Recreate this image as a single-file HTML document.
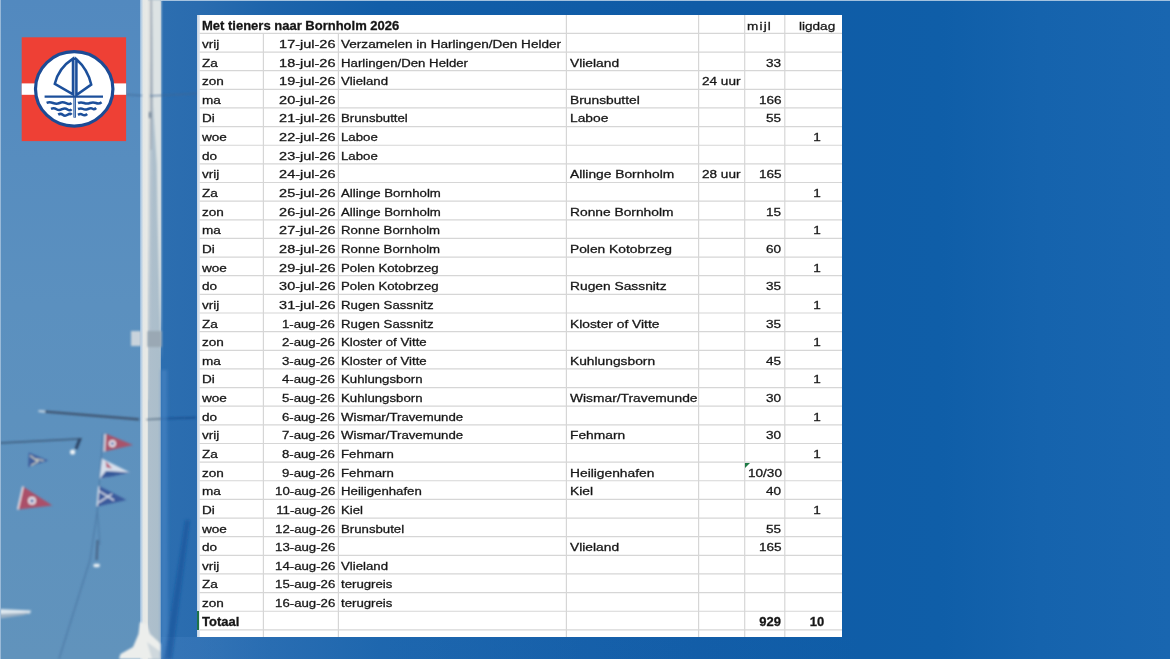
<!DOCTYPE html>
<html lang="nl">
<head>
<meta charset="utf-8">
<title>Met tieners naar Bornholm 2026</title>
<style>
html,body{margin:0;padding:0;}
body{width:1170px;height:659px;overflow:hidden;position:relative;background:#115dae;font-family:"Liberation Sans",sans-serif;}
#bg{position:absolute;left:0;top:0;width:1170px;height:659px;background:linear-gradient(90deg,#2c6eb0 161px,#2a6caf 198px,#1d64ab 270px,#125ea8 380px,#0f5ba6 700px,#0f5ea8 940px,#1563ad 1040px,#1966b0 1170px);}
#bot{position:absolute;left:161px;top:637px;width:700px;height:22px;background:linear-gradient(90deg,rgba(70,130,195,0.35) 0,rgba(60,125,190,0.3) 200px,rgba(50,115,185,0.18) 420px,rgba(40,105,180,0) 700px);}
#topl{position:absolute;left:0;top:0;width:1170px;height:1px;background:#bcd2e8;opacity:.85}
#sky{position:absolute;left:0;top:0;width:141px;height:659px;background:linear-gradient(180deg,#5289bf 0,#578dbf 160px,#5b90bf 305px,#5f92bd 535px,#6193bc 659px);}
#mast{position:absolute;left:140px;top:0;width:21px;height:659px;background:linear-gradient(90deg,#8fb4d8 0,#b4cde4 1.2px,#e4e7e6 3.4px,#e9eae6 7.2px,#aebfcc 8.6px,#abbecb 19.6px,#86a9cb 21px);}
#tbl{position:absolute;left:197px;top:15px;width:645px;height:622px;background:#fff;overflow:hidden;}
.h{position:absolute;left:0;width:645px;height:1px;background:#dcdcdc;}
.v{position:absolute;top:0;width:1px;height:623px;background:#dcdcdc;}
.c{position:absolute;white-space:nowrap;font-size:11.7px;color:#141414;padding-top:1.5px;-webkit-text-stroke:0.3px #1c1c1c;box-sizing:border-box;}
.l{transform:scaleX(1.16);transform-origin:0 50%;}
.r{transform:scaleX(1.16);transform-origin:100% 50%;text-align:right;}
.m{transform:scaleX(1.16);transform-origin:50% 50%;text-align:center;}
.b{font-weight:bold;font-size:12.5px;}
.b.l{transform:scaleX(1.04);}
.b.r{transform:scaleX(1.04);}
.b.m{transform:scaleX(1.04);}
.d.r{transform:scaleX(1.24);}
.e.r{transform:scaleX(1.13);}
.c3.l{transform:scaleX(1.13);}
.c4.l{transform:scaleX(1.18);}
svg{position:absolute;left:0;top:0;}
</style>
</head>
<body>
<div id="bg"></div>
<div id="bot"></div>
<div id="topl"></div>
<div id="sky"></div>
<div id="mast"></div>
<svg id="photo" width="200" height="659" viewBox="0 0 200 659">
<defs>
<filter id="bl" x="-20%" y="-20%" width="140%" height="140%"><feGaussianBlur stdDeviation="0.8"/></filter>
<filter id="bl2" x="-20%" y="-20%" width="140%" height="140%"><feGaussianBlur stdDeviation="1.6"/></filter>
</defs>
<g filter="url(#bl)">
<path d="M147 0 L150.2 0 L149.8 120 L149.2 220 L147.6 400 L147 400 Z" fill="#e9eae6"/>
<path d="M152 0 L161.2 0 L161.2 360 L159.5 300 L157.5 215 L156.8 165 L153 105 Z" fill="#dde3e4"/>
<path d="M150.1 0 L152.1 0 L152.6 100 L151.4 150 L149.8 150 Z" fill="#a3adb9"/>
<path d="M149.4 150 L152 150 L150 330 L148.4 330 Z" fill="#b9c7d2"/>
</g>
<g filter="url(#bl)">
<!-- stay wire right of logo -->
<path d="M126 94.6 L142 95.6 M150 96 L197 93.5" stroke="#3f6592" stroke-width="0.9" fill="none"/>
<!-- bracket on mast -->
<rect x="131" y="331" width="10" height="15" fill="#c9d3dc"/>
<rect x="147.5" y="331" width="14" height="16" fill="#9aa8b4"/>
<path d="M150 112 v6" stroke="#5b6f86" stroke-width="1.6"/>
<!-- spreader -->
<path d="M45 411.6 L139 419.4" stroke="#3d526e" stroke-width="2.1" fill="none"/>
<path d="M38.5 411 L45 411.6" stroke="#c2d2e0" stroke-width="2.2" fill="none"/>
<path d="M161 418.8 L196 417.6" stroke="#1d4f8f" stroke-width="1.6" fill="none"/>
<path d="M146.5 419.6 L161 418.8" stroke="#5c7388" stroke-width="1.4" fill="none"/>
<!-- wire + lamp -->
<path d="M0 443 L82 438.8" stroke="#3d5a7a" stroke-width="1.5" fill="none"/>
<path d="M80 438.6 L76 449" stroke="#2d4566" stroke-width="3" fill="none"/>
<circle cx="72.6" cy="452" r="2.6" fill="#eef3f6"/>
<!-- halyard -->
<path d="M103 433 L97.5 510 L90 560 L59 659" stroke="#4d7aa6" stroke-width="1.2" fill="none"/>
<path d="M97 505 L100 545" stroke="#4d7aa6" stroke-width="1" fill="none"/>
<!-- pennant 1 red -->
<path d="M105.6 433.6 L133 445 L104.6 451.6 Z" fill="#a9526b"/>
<path d="M105.2 434 L104.4 451.6" stroke="#e8dfe6" stroke-width="1.6"/>
<circle cx="112.4" cy="443.6" r="3.6" fill="#e9e2ea"/>
<circle cx="112.4" cy="443.6" r="1.7" fill="#5b77b0"/>
<!-- pennant 2 white/blue -->
<path d="M102 458.6 L130 472.6 L99.6 478.8 Z" fill="#d6dfec"/>
<path d="M106 471 L130 472.4 L112 476.6 L100 478.6 Z" fill="#34589a"/>
<path d="M105.6 461 L112 468.6 L106.6 467.6 Z" fill="#b6506a"/>
<!-- pennant 3 blue w/ cross -->
<path d="M99.2 486 L126.6 500 L97.4 506.4 Z" fill="#3a5a9c"/>
<path d="M99 491 L114 500.4 M98.4 502.6 L112 494" stroke="#e4e9f2" stroke-width="1.3" fill="none"/>
<path d="M98.8 486.4 L97.2 506.2" stroke="#dfe6ef" stroke-width="1.4"/>
<!-- pennant 4 small blue left -->
<path d="M28.8 452.4 L48.4 460.4 L28.2 467 Z" fill="#3e5f9d"/>
<path d="M30 455.4 L38 461.4 L31 465.6 M36 459 L43.6 460.6" stroke="#d9d8c4" stroke-width="1.2" fill="none"/>
<!-- pennant 5 red left -->
<path d="M23 486.6 L52.4 505.4 L18 509.4 Z" fill="#ab5069"/>
<path d="M23 486.4 L17.8 509.6" stroke="#eadfe6" stroke-width="1.8"/>
<circle cx="32" cy="500.8" r="4" fill="#e9e2ea"/>
<circle cx="32" cy="500.8" r="1.9" fill="#5b77b0"/>
<!-- small thing on halyard -->
<path d="M97.6 540 L96.6 560" stroke="#4a6688" stroke-width="2.2"/>
<rect x="93.4" y="563.8" width="6.4" height="3.4" rx="1.4" fill="#e6edf2"/>
<!-- bottom-left bar -->
<path d="M0 609 L31 610.6 L30 613.4 L0 617.4 Z" fill="#dfe8ef"/>
<path d="M0 614 L30 612.4 L24 615 L0 618.4 Z" fill="#9db1c4"/>
<!-- mast base -->
<path d="M140 622 L146.5 624 L150 634 L161 644 L161 659 L119 659 L120.5 654 L133 647 L138.5 634 Z" fill="#eceeec"/>
<path d="M147 642 L152 659 L161 659 L161 652 Z" fill="#cfd8dd"/>
</g>
<g filter="url(#bl2)">
<path d="M161 370 L167 370 L168 659 L161 659 Z" fill="#4a86c4" opacity="0.6"/>
<path d="M185 520 L190 520 L172 659 L164 659 Z" fill="#134e98" opacity="0.55"/>
</g>
<rect x="0" y="0" width="1" height="659" fill="#aac4de" opacity="0.8"/>
</svg>
<svg id="logo" width="200" height="160" viewBox="0 0 200 160">
<defs><filter id="lb" x="-5%" y="-5%" width="110%" height="110%"><feGaussianBlur stdDeviation="0.45"/></filter></defs>
<g filter="url(#lb)">
<rect x="21.7" y="37.3" width="104.4" height="103.8" fill="#ee3f34"/>
<rect x="21.7" y="83.4" width="104.4" height="11.4" fill="#ffffff"/>
<ellipse cx="74.2" cy="88.9" rx="38.7" ry="37.2" fill="#ffffff" stroke="#1c4c95" stroke-width="3.2"/>
<g fill="none" stroke="#1d509b" stroke-width="2.5" stroke-linejoin="miter">
<path d="M73 58.6 Q58.5 68 54.8 83.8 L73 94.4 Z"/>
<path d="M76.4 59.2 Q88 69.5 91.2 84.6 L76.4 95 Z"/>
<path d="M74.7 57.6 V117.6" stroke-width="2.6"/>
<path d="M74.7 60 V117" stroke="#dfe8f4" stroke-width="0.7"/>
<path d="M44.6 96.7 H103" stroke-width="2.2"/>
<path d="M46.6 102.8 q3 -1.2 6.5 0.2 t6.5 0 t6.5 0.2 t5.4 -0.2 M78 103 q3 -1.2 6 0 t6 0 t6 0 t5.6 -0.8" stroke-width="2.5"/>
<path d="M51 108.8 q3 -1.2 5.5 0.4 t5.5 0 t5.5 0.2 t4 -0.2 M78 109 q3 -1.2 5 0 t5 0 t4.6 -0.2 t3.6 -0.8" stroke-width="2.5"/>
<path d="M58.2 114.6 q2.5 -1.6 4.6 0.2 t4.8 0 t4 0 M78 114.8 q2.5 -1.4 4.6 0 t4.6 -0.8" stroke-width="2.5"/>
</g>
</g>
</svg>
<div id="tbl">
<div style="position:absolute;left:0;top:0;width:3px;height:622px;background:linear-gradient(90deg,#c3d3e4,#e6ecf3)"></div>
<svg class="grid" width="645" height="622" viewBox="0 0 645 622"><g stroke="#d6d6d6" stroke-width="1.2" fill="none">
<path d="M2.6 18.40H645"/>
<path d="M2.6 37.04H645"/>
<path d="M2.6 55.68H645"/>
<path d="M2.6 74.32H645"/>
<path d="M2.6 92.96H645"/>
<path d="M2.6 111.60H645"/>
<path d="M2.6 130.24H645"/>
<path d="M2.6 148.88H645"/>
<path d="M2.6 167.52H645"/>
<path d="M2.6 186.16H645"/>
<path d="M2.6 204.80H645"/>
<path d="M2.6 223.44H645"/>
<path d="M2.6 242.08H645"/>
<path d="M2.6 260.72H645"/>
<path d="M2.6 279.36H645"/>
<path d="M2.6 298.00H645"/>
<path d="M2.6 316.64H645"/>
<path d="M2.6 335.28H645"/>
<path d="M2.6 353.92H645"/>
<path d="M2.6 372.56H645"/>
<path d="M2.6 391.20H645"/>
<path d="M2.6 409.84H645"/>
<path d="M2.6 428.48H645"/>
<path d="M2.6 447.12H645"/>
<path d="M2.6 465.76H645"/>
<path d="M2.6 484.40H645"/>
<path d="M2.6 503.04H645"/>
<path d="M2.6 521.68H645"/>
<path d="M2.6 540.32H645"/>
<path d="M2.6 558.96H645"/>
<path d="M2.6 577.60H645"/>
<path d="M2.6 596.24H645"/>
<path d="M2.6 614.88H645"/>
<path d="M66.40 18.40V622"/>
<path d="M141.40 18.40V622"/>
<path d="M369.40 0.00V622"/>
<path d="M501.60 0.00V622"/>
<path d="M547.70 0.00V622"/>
<path d="M587.80 0.00V622"/>
</g></svg>
<div class="c b l" style="left:5.0px;top:0.00px;height:18.40px;line-height:18.40px">Met tieners naar Bornholm 2026</div>
<div class="c l" style="left:549.6px;top:0.00px;height:18.40px;line-height:18.40px"><span style="letter-spacing:1px">mijl</span></div>
<div class="c r" style="right:6.4px;top:0.00px;height:18.40px;line-height:18.40px">ligdag</div>
<div class="c l" style="left:5.2px;top:18.40px;height:18.64px;line-height:18.64px">vrij</div>
<div class="c d r" style="right:506.8px;top:18.40px;height:18.64px;line-height:18.64px">17-jul-26</div>
<div class="c l" style="left:144.2px;top:18.40px;height:18.64px;line-height:18.64px">Verzamelen in Harlingen/Den Helder</div>
<div class="c l" style="left:5.2px;top:37.04px;height:18.64px;line-height:18.64px">Za</div>
<div class="c d r" style="right:506.8px;top:37.04px;height:18.64px;line-height:18.64px">18-jul-26</div>
<div class="c c3 l" style="left:144.2px;top:37.04px;height:18.64px;line-height:18.64px">Harlingen/Den Helder</div>
<div class="c c4 l" style="left:373.0px;top:37.04px;height:18.64px;line-height:18.64px">Vlieland</div>
<div class="c r" style="right:60.8px;top:37.04px;height:18.64px;line-height:18.64px">33</div>
<div class="c l" style="left:5.2px;top:55.68px;height:18.64px;line-height:18.64px">zon</div>
<div class="c d r" style="right:506.8px;top:55.68px;height:18.64px;line-height:18.64px">19-jul-26</div>
<div class="c c3 l" style="left:144.2px;top:55.68px;height:18.64px;line-height:18.64px">Vlieland</div>
<div class="c l" style="left:505.3px;top:55.68px;height:18.64px;line-height:18.64px">24 uur</div>
<div class="c l" style="left:5.2px;top:74.32px;height:18.64px;line-height:18.64px">ma</div>
<div class="c d r" style="right:506.8px;top:74.32px;height:18.64px;line-height:18.64px">20-jul-26</div>
<div class="c c4 l" style="left:373.0px;top:74.32px;height:18.64px;line-height:18.64px">Brunsbuttel</div>
<div class="c r" style="right:60.8px;top:74.32px;height:18.64px;line-height:18.64px">166</div>
<div class="c l" style="left:5.2px;top:92.96px;height:18.64px;line-height:18.64px">Di</div>
<div class="c d r" style="right:506.8px;top:92.96px;height:18.64px;line-height:18.64px">21-jul-26</div>
<div class="c c3 l" style="left:144.2px;top:92.96px;height:18.64px;line-height:18.64px">Brunsbuttel</div>
<div class="c c4 l" style="left:373.0px;top:92.96px;height:18.64px;line-height:18.64px">Laboe</div>
<div class="c r" style="right:60.8px;top:92.96px;height:18.64px;line-height:18.64px">55</div>
<div class="c l" style="left:5.2px;top:111.60px;height:18.64px;line-height:18.64px">woe</div>
<div class="c d r" style="right:506.8px;top:111.60px;height:18.64px;line-height:18.64px">22-jul-26</div>
<div class="c c3 l" style="left:144.2px;top:111.60px;height:18.64px;line-height:18.64px">Laboe</div>
<div class="c m" style="left:579.5px;width:80px;top:111.60px;height:18.64px;line-height:18.64px">1</div>
<div class="c l" style="left:5.2px;top:130.24px;height:18.64px;line-height:18.64px">do</div>
<div class="c d r" style="right:506.8px;top:130.24px;height:18.64px;line-height:18.64px">23-jul-26</div>
<div class="c c3 l" style="left:144.2px;top:130.24px;height:18.64px;line-height:18.64px">Laboe</div>
<div class="c l" style="left:5.2px;top:148.88px;height:18.64px;line-height:18.64px">vrij</div>
<div class="c d r" style="right:506.8px;top:148.88px;height:18.64px;line-height:18.64px">24-jul-26</div>
<div class="c c4 l" style="left:373.0px;top:148.88px;height:18.64px;line-height:18.64px">Allinge Bornholm</div>
<div class="c l" style="left:505.3px;top:148.88px;height:18.64px;line-height:18.64px">28 uur</div>
<div class="c r" style="right:60.8px;top:148.88px;height:18.64px;line-height:18.64px">165</div>
<div class="c l" style="left:5.2px;top:167.52px;height:18.64px;line-height:18.64px">Za</div>
<div class="c d r" style="right:506.8px;top:167.52px;height:18.64px;line-height:18.64px">25-jul-26</div>
<div class="c c3 l" style="left:144.2px;top:167.52px;height:18.64px;line-height:18.64px">Allinge Bornholm</div>
<div class="c m" style="left:579.5px;width:80px;top:167.52px;height:18.64px;line-height:18.64px">1</div>
<div class="c l" style="left:5.2px;top:186.16px;height:18.64px;line-height:18.64px">zon</div>
<div class="c d r" style="right:506.8px;top:186.16px;height:18.64px;line-height:18.64px">26-jul-26</div>
<div class="c c3 l" style="left:144.2px;top:186.16px;height:18.64px;line-height:18.64px">Allinge Bornholm</div>
<div class="c c4 l" style="left:373.0px;top:186.16px;height:18.64px;line-height:18.64px">Ronne Bornholm</div>
<div class="c r" style="right:60.8px;top:186.16px;height:18.64px;line-height:18.64px">15</div>
<div class="c l" style="left:5.2px;top:204.80px;height:18.64px;line-height:18.64px">ma</div>
<div class="c d r" style="right:506.8px;top:204.80px;height:18.64px;line-height:18.64px">27-jul-26</div>
<div class="c c3 l" style="left:144.2px;top:204.80px;height:18.64px;line-height:18.64px">Ronne Bornholm</div>
<div class="c m" style="left:579.5px;width:80px;top:204.80px;height:18.64px;line-height:18.64px">1</div>
<div class="c l" style="left:5.2px;top:223.44px;height:18.64px;line-height:18.64px">Di</div>
<div class="c d r" style="right:506.8px;top:223.44px;height:18.64px;line-height:18.64px">28-jul-26</div>
<div class="c c3 l" style="left:144.2px;top:223.44px;height:18.64px;line-height:18.64px">Ronne Bornholm</div>
<div class="c c4 l" style="left:373.0px;top:223.44px;height:18.64px;line-height:18.64px">Polen Kotobrzeg</div>
<div class="c r" style="right:60.8px;top:223.44px;height:18.64px;line-height:18.64px">60</div>
<div class="c l" style="left:5.2px;top:242.08px;height:18.64px;line-height:18.64px">woe</div>
<div class="c d r" style="right:506.8px;top:242.08px;height:18.64px;line-height:18.64px">29-jul-26</div>
<div class="c c3 l" style="left:144.2px;top:242.08px;height:18.64px;line-height:18.64px">Polen Kotobrzeg</div>
<div class="c m" style="left:579.5px;width:80px;top:242.08px;height:18.64px;line-height:18.64px">1</div>
<div class="c l" style="left:5.2px;top:260.72px;height:18.64px;line-height:18.64px">do</div>
<div class="c d r" style="right:506.8px;top:260.72px;height:18.64px;line-height:18.64px">30-jul-26</div>
<div class="c c3 l" style="left:144.2px;top:260.72px;height:18.64px;line-height:18.64px">Polen Kotobrzeg</div>
<div class="c c4 l" style="left:373.0px;top:260.72px;height:18.64px;line-height:18.64px">Rugen Sassnitz</div>
<div class="c r" style="right:60.8px;top:260.72px;height:18.64px;line-height:18.64px">35</div>
<div class="c l" style="left:5.2px;top:279.36px;height:18.64px;line-height:18.64px">vrij</div>
<div class="c d r" style="right:506.8px;top:279.36px;height:18.64px;line-height:18.64px">31-jul-26</div>
<div class="c c3 l" style="left:144.2px;top:279.36px;height:18.64px;line-height:18.64px">Rugen Sassnitz</div>
<div class="c m" style="left:579.5px;width:80px;top:279.36px;height:18.64px;line-height:18.64px">1</div>
<div class="c l" style="left:5.2px;top:298.00px;height:18.64px;line-height:18.64px">Za</div>
<div class="c e r" style="right:506.8px;top:298.00px;height:18.64px;line-height:18.64px">1-aug-26</div>
<div class="c c3 l" style="left:144.2px;top:298.00px;height:18.64px;line-height:18.64px">Rugen Sassnitz</div>
<div class="c c4 l" style="left:373.0px;top:298.00px;height:18.64px;line-height:18.64px">Kloster of Vitte</div>
<div class="c r" style="right:60.8px;top:298.00px;height:18.64px;line-height:18.64px">35</div>
<div class="c l" style="left:5.2px;top:316.64px;height:18.64px;line-height:18.64px">zon</div>
<div class="c e r" style="right:506.8px;top:316.64px;height:18.64px;line-height:18.64px">2-aug-26</div>
<div class="c c3 l" style="left:144.2px;top:316.64px;height:18.64px;line-height:18.64px">Kloster of Vitte</div>
<div class="c m" style="left:579.5px;width:80px;top:316.64px;height:18.64px;line-height:18.64px">1</div>
<div class="c l" style="left:5.2px;top:335.28px;height:18.64px;line-height:18.64px">ma</div>
<div class="c e r" style="right:506.8px;top:335.28px;height:18.64px;line-height:18.64px">3-aug-26</div>
<div class="c c3 l" style="left:144.2px;top:335.28px;height:18.64px;line-height:18.64px">Kloster of Vitte</div>
<div class="c c4 l" style="left:373.0px;top:335.28px;height:18.64px;line-height:18.64px">Kuhlungsborn</div>
<div class="c r" style="right:60.8px;top:335.28px;height:18.64px;line-height:18.64px">45</div>
<div class="c l" style="left:5.2px;top:353.92px;height:18.64px;line-height:18.64px">Di</div>
<div class="c e r" style="right:506.8px;top:353.92px;height:18.64px;line-height:18.64px">4-aug-26</div>
<div class="c c3 l" style="left:144.2px;top:353.92px;height:18.64px;line-height:18.64px">Kuhlungsborn</div>
<div class="c m" style="left:579.5px;width:80px;top:353.92px;height:18.64px;line-height:18.64px">1</div>
<div class="c l" style="left:5.2px;top:372.56px;height:18.64px;line-height:18.64px">woe</div>
<div class="c e r" style="right:506.8px;top:372.56px;height:18.64px;line-height:18.64px">5-aug-26</div>
<div class="c c3 l" style="left:144.2px;top:372.56px;height:18.64px;line-height:18.64px">Kuhlungsborn</div>
<div class="c c4 l" style="left:373.0px;top:372.56px;height:18.64px;line-height:18.64px">Wismar/Travemunde</div>
<div class="c r" style="right:60.8px;top:372.56px;height:18.64px;line-height:18.64px">30</div>
<div class="c l" style="left:5.2px;top:391.20px;height:18.64px;line-height:18.64px">do</div>
<div class="c e r" style="right:506.8px;top:391.20px;height:18.64px;line-height:18.64px">6-aug-26</div>
<div class="c c3 l" style="left:144.2px;top:391.20px;height:18.64px;line-height:18.64px">Wismar/Travemunde</div>
<div class="c m" style="left:579.5px;width:80px;top:391.20px;height:18.64px;line-height:18.64px">1</div>
<div class="c l" style="left:5.2px;top:409.84px;height:18.64px;line-height:18.64px">vrij</div>
<div class="c e r" style="right:506.8px;top:409.84px;height:18.64px;line-height:18.64px">7-aug-26</div>
<div class="c c3 l" style="left:144.2px;top:409.84px;height:18.64px;line-height:18.64px">Wismar/Travemunde</div>
<div class="c c4 l" style="left:373.0px;top:409.84px;height:18.64px;line-height:18.64px">Fehmarn</div>
<div class="c r" style="right:60.8px;top:409.84px;height:18.64px;line-height:18.64px">30</div>
<div class="c l" style="left:5.2px;top:428.48px;height:18.64px;line-height:18.64px">Za</div>
<div class="c e r" style="right:506.8px;top:428.48px;height:18.64px;line-height:18.64px">8-aug-26</div>
<div class="c c3 l" style="left:144.2px;top:428.48px;height:18.64px;line-height:18.64px">Fehmarn</div>
<div class="c m" style="left:579.5px;width:80px;top:428.48px;height:18.64px;line-height:18.64px">1</div>
<div class="c l" style="left:5.2px;top:447.12px;height:18.64px;line-height:18.64px">zon</div>
<div class="c e r" style="right:506.8px;top:447.12px;height:18.64px;line-height:18.64px">9-aug-26</div>
<div class="c c3 l" style="left:144.2px;top:447.12px;height:18.64px;line-height:18.64px">Fehmarn</div>
<div class="c c4 l" style="left:373.0px;top:447.12px;height:18.64px;line-height:18.64px">Heiligenhafen</div>
<div class="c l" style="left:551.0px;top:447.12px;height:18.64px;line-height:18.64px">10/30</div>
<div class="c l" style="left:5.2px;top:465.76px;height:18.64px;line-height:18.64px">ma</div>
<div class="c e r" style="right:506.8px;top:465.76px;height:18.64px;line-height:18.64px">10-aug-26</div>
<div class="c c3 l" style="left:144.2px;top:465.76px;height:18.64px;line-height:18.64px">Heiligenhafen</div>
<div class="c c4 l" style="left:373.0px;top:465.76px;height:18.64px;line-height:18.64px">Kiel</div>
<div class="c r" style="right:60.8px;top:465.76px;height:18.64px;line-height:18.64px">40</div>
<div class="c l" style="left:5.2px;top:484.40px;height:18.64px;line-height:18.64px">Di</div>
<div class="c e r" style="right:506.8px;top:484.40px;height:18.64px;line-height:18.64px">11-aug-26</div>
<div class="c c3 l" style="left:144.2px;top:484.40px;height:18.64px;line-height:18.64px">Kiel</div>
<div class="c m" style="left:579.5px;width:80px;top:484.40px;height:18.64px;line-height:18.64px">1</div>
<div class="c l" style="left:5.2px;top:503.04px;height:18.64px;line-height:18.64px">woe</div>
<div class="c e r" style="right:506.8px;top:503.04px;height:18.64px;line-height:18.64px">12-aug-26</div>
<div class="c c3 l" style="left:144.2px;top:503.04px;height:18.64px;line-height:18.64px">Brunsbutel</div>
<div class="c r" style="right:60.8px;top:503.04px;height:18.64px;line-height:18.64px">55</div>
<div class="c l" style="left:5.2px;top:521.68px;height:18.64px;line-height:18.64px">do</div>
<div class="c e r" style="right:506.8px;top:521.68px;height:18.64px;line-height:18.64px">13-aug-26</div>
<div class="c c4 l" style="left:373.0px;top:521.68px;height:18.64px;line-height:18.64px">Vlieland</div>
<div class="c r" style="right:60.8px;top:521.68px;height:18.64px;line-height:18.64px">165</div>
<div class="c l" style="left:5.2px;top:540.32px;height:18.64px;line-height:18.64px">vrij</div>
<div class="c e r" style="right:506.8px;top:540.32px;height:18.64px;line-height:18.64px">14-aug-26</div>
<div class="c c3 l" style="left:144.2px;top:540.32px;height:18.64px;line-height:18.64px">Vlieland</div>
<div class="c l" style="left:5.2px;top:558.96px;height:18.64px;line-height:18.64px">Za</div>
<div class="c e r" style="right:506.8px;top:558.96px;height:18.64px;line-height:18.64px">15-aug-26</div>
<div class="c c3 l" style="left:144.2px;top:558.96px;height:18.64px;line-height:18.64px">terugreis</div>
<div class="c l" style="left:5.2px;top:577.60px;height:18.64px;line-height:18.64px">zon</div>
<div class="c e r" style="right:506.8px;top:577.60px;height:18.64px;line-height:18.64px">16-aug-26</div>
<div class="c c3 l" style="left:144.2px;top:577.60px;height:18.64px;line-height:18.64px">terugreis</div>
<div class="c b l" style="left:5.2px;top:596.24px;height:18.64px;line-height:18.64px">Totaal</div>
<div class="c b r" style="right:60.8px;top:596.24px;height:18.64px;line-height:18.64px">929</div>
<div class="c b m" style="left:579.5px;width:80px;top:596.24px;height:18.64px;line-height:18.64px">10</div>
<div style="position:absolute;left:548.3px;top:447.72px;width:0;height:0;border-top:5px solid #1e7a45;border-right:5px solid transparent"></div>
<div style="position:absolute;left:0;top:596.24px;width:2.4px;height:18.64px;background:#1f7246"></div>
</div>
</body>
</html>
